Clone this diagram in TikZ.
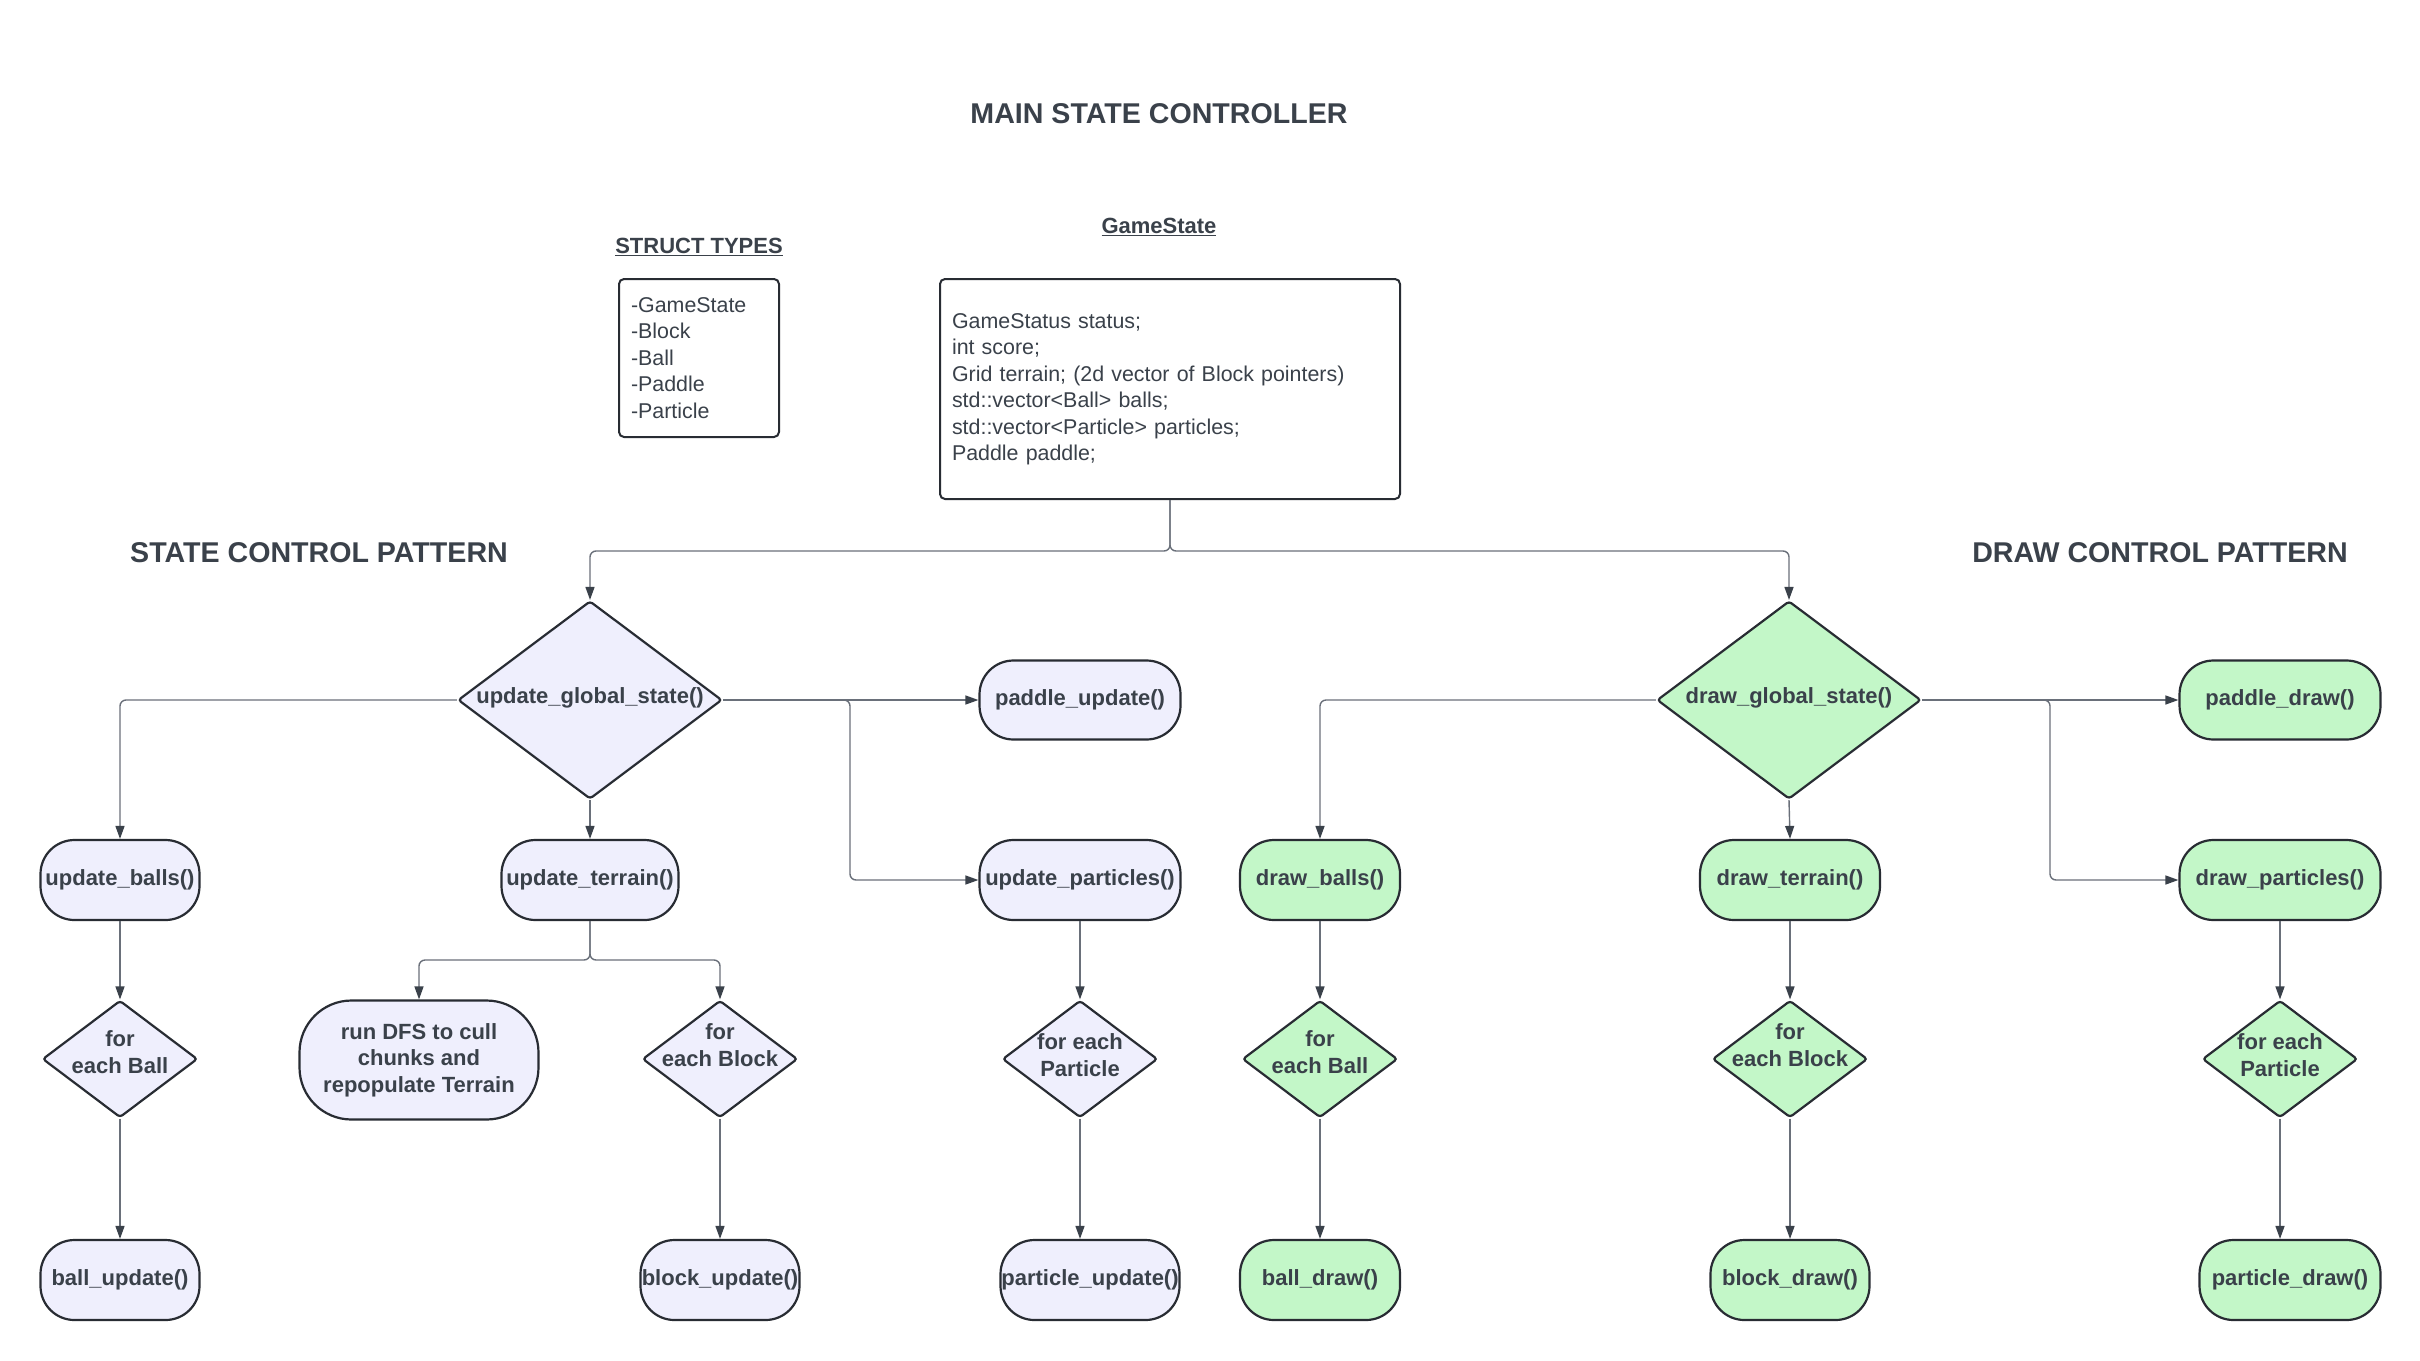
\documentclass[tikz,border=0pt]{standalone}
\usepackage{fontspec}
\setmainfont{Liberation Sans}
\usetikzlibrary{shapes.geometric,arrows.meta,calc}
\definecolor{txtc}{HTML}{3A414A}
\definecolor{strokec}{HTML}{282C33}
\definecolor{linec}{HTML}{6A707A}
\definecolor{lavc}{HTML}{EFEFFD}
\definecolor{grnc}{HTML}{C3F7C8}
\newcommand\nodefnt{\fontsize{22}{26.5}\selectfont\bfseries}
\newcommand\plainfnt{\fontsize{21.4}{26.5}\selectfont}
\newcommand\headfnt{\fontsize{28.6}{32}\selectfont\bfseries}
\begin{document}
\begin{tikzpicture}[x=1pt,y=-1pt,
  pill/.style={draw=strokec, line width=2.2pt, fill=lavc, rounded corners=34pt,
    minimum height=80pt, inner sep=0pt, font=\nodefnt, text=txtc, align=center},
  gpill/.style={pill, fill=grnc},
  dia/.style={draw=strokec, line width=2.2pt, fill=lavc, diamond, inner sep=0pt,
    minimum width=155pt, minimum height=117pt, rounded corners=3pt},
  gdia/.style={dia, fill=grnc},
  bigdia/.style={dia, minimum width=264pt, minimum height=198pt},
  lbl/.style={font=\nodefnt, text=txtc, align=center, inner sep=0pt},
  head/.style={font=\headfnt, text=txtc, inner sep=0pt},
  infobox/.style={draw=strokec, line width=2pt, rounded corners=5pt, font=\plainfnt,
    text=txtc, align=left, inner ysep=0pt, inner xsep=12pt},
  arr/.style={draw=linec, line width=1.4pt, rounded corners=6pt,
    -{Triangle[length=13pt,width=9pt,color=txtc]}}
]
\useasboundingbox (0,0) rectangle (2420,1360);
\fill[white] (0,0) rectangle (2420,1360);

% headings
\node[head] (title) at (1159,114) {MAIN STATE CONTROLLER};
\node[head] (scp) at (319,553) {STATE CONTROL PATTERN};
\node[head] (dcp) at (2160,553) {DRAW CONTROL PATTERN};
\node[lbl, font=\fontsize{22}{26}\selectfont\bfseries] (gslbl) at (1159,227) {\underline{GameState}};
\node[lbl, font=\fontsize{22}{26}\selectfont\bfseries] (stlbl) at (699,247) {\underline{STRUCT TYPES}};

% info boxes
\node[infobox, text width=136pt, minimum height=158pt] (st) at (699,358)
  {-GameState\\-Block\\-Ball\\-Paddle\\-Particle};
\node[infobox, text width=436pt, minimum height=220pt] (gs) at (1170,389)
  {GameStatus status;\\int score;\\Grid terrain; (2d vector of Block pointers)\\std::vector<Ball> balls;\\std::vector<Particle> particles;\\Paddle paddle;};

% state control (left)
\node[bigdia] (ugs) at (590,700) {};
\node[lbl] (ugst) at (590,698) {update\_global\_state()};
\node[pill, minimum width=201pt, minimum height=79pt] (pu) at (1080,700) {paddle\_update()};
\node[pill, minimum width=159pt] (ub) at (120,880) {update\_balls()};
\node[pill, minimum width=177pt] (ut) at (590,880) {update\_terrain()};
\node[pill, minimum width=201pt] (upart) at (1080,880) {update\_particles()};
\node[dia] (fball) at (120,1059) {};
\node[lbl] (fballt) at (120,1052) {for\\each Ball};
\node[pill, minimum width=239pt, minimum height=119pt, rounded corners=52pt] (dfs) at (419,1060)
  {run DFS to cull\\chunks and\\repopulate Terrain};
\node[dia] (fblock) at (720,1059) {};
\node[lbl] (fblockt) at (720,1045) {for\\each Block};
\node[dia] (fpart) at (1080,1059) {};
\node[lbl] (fpartt) at (1080,1055) {for each\\Particle};
\node[pill, minimum width=159pt] (bu) at (120,1280) {ball\_update()};
\node[pill, minimum width=159pt] (blu) at (720,1280) {block\_update()};
\node[pill, minimum width=179pt] (pupd) at (1090,1280) {particle\_update()};

% draw control (right)
\node[bigdia, fill=grnc] (dgs) at (1789,700) {};
\node[lbl] (dgst) at (1789,698) {draw\_global\_state()};
\node[gpill, minimum width=201pt, minimum height=79pt] (pd) at (2280,700) {paddle\_draw()};
\node[gpill, minimum width=160pt] (db) at (1320,880) {draw\_balls()};
\node[gpill, minimum width=180pt] (dt) at (1790,880) {draw\_terrain()};
\node[gpill, minimum width=201pt] (dpart) at (2280,880) {draw\_particles()};
\node[gdia] (gball) at (1320,1059) {};
\node[lbl] (gballt) at (1320,1052) {for\\each Ball};
\node[gdia] (gblock) at (1790,1059) {};
\node[lbl] (gblockt) at (1790,1045) {for\\each Block};
\node[gdia] (gpart) at (2280,1059) {};
\node[lbl] (gpartt) at (2280,1055) {for each\\Particle};
\node[gpill, minimum width=160pt] (bd) at (1320,1280) {ball\_draw()};
\node[gpill, minimum width=159pt] (bkd) at (1790,1280) {block\_draw()};
\node[gpill, minimum width=181pt] (pdr) at (2290,1280) {particle\_draw()};

% junction coordinates
\coordinate (jgs) at (1170,551);
\coordinate (jur) at (850,700);
\coordinate (jt) at (590,960);
\coordinate (jdr) at (2050,700);

% connectors
\draw[arr] (gs.south) -- (jgs) -| (ugs.north);
\draw[arr] (gs.south) -- (jgs) -| (dgs.north);

\draw[arr] (ugs.west) -| (ub.north);
\draw[arr] (ugs.south) -- (ut.north);
\draw[arr] (ugs.east) -- (pu.west);
\draw[arr] (ugs.east) -- (jur) |- (upart.west);
\draw[arr] (ut.south) -- (jt) -| (dfs.north);
\draw[arr] (ut.south) -- (jt) -| (fblock.north);
\draw[arr] (ub.south) -- (fball.north);
\draw[arr] (fball.south) -- (bu.north);
\draw[arr] (fblock.south) -- (blu.north);
\draw[arr] (upart.south) -- (fpart.north);
\draw[arr] (fpart.south) -- (fpart.south |- pupd.north);

\draw[arr] (dgs.west) -| (db.north);
\draw[arr] (dgs.south) -- (dt.north);
\draw[arr] (dgs.east) -- (pd.west);
\draw[arr] (dgs.east) -- (jdr) |- (dpart.west);
\draw[arr] (db.south) -- (gball.north);
\draw[arr] (gball.south) -- (bd.north);
\draw[arr] (dt.south) -- (gblock.north);
\draw[arr] (gblock.south) -- (bkd.north);
\draw[arr] (dpart.south) -- (gpart.north);
\draw[arr] (gpart.south) -- (gpart.south |- pdr.north);
\end{tikzpicture}
\end{document}
